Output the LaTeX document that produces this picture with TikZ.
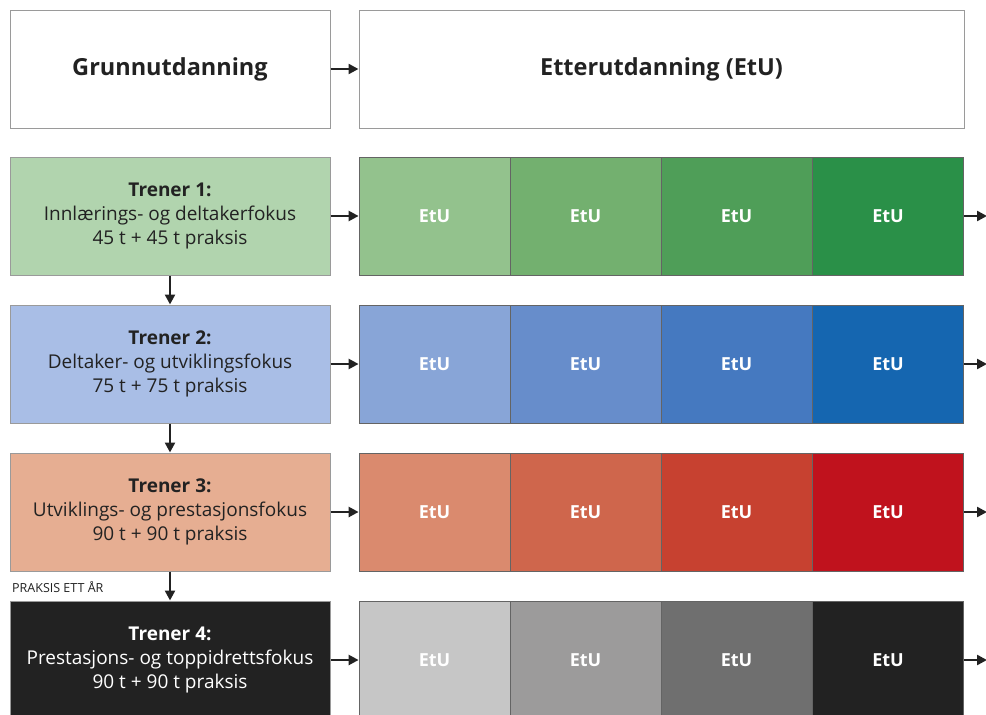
\documentclass[tikz,border=0pt]{standalone}
\usepackage{fontspec}
\setmainfont{Open Sans}
\usetikzlibrary{arrows.meta}
\definecolor{bordergray}{HTML}{9A9A9A}
\definecolor{ga}{HTML}{B1D4AE}\definecolor{g1}{HTML}{93C28D}\definecolor{g2}{HTML}{73B06F}\definecolor{g3}{HTML}{4F9E58}\definecolor{g4}{HTML}{2A9048}
\definecolor{ba}{HTML}{A9BEE6}\definecolor{b1}{HTML}{88A5D7}\definecolor{b2}{HTML}{678DCB}\definecolor{b3}{HTML}{4579C0}\definecolor{b4}{HTML}{1566B0}
\definecolor{ra}{HTML}{E6AE92}\definecolor{r1}{HTML}{DA8A6E}\definecolor{r2}{HTML}{CF664C}\definecolor{r3}{HTML}{C74130}\definecolor{r4}{HTML}{C0121D}
\definecolor{ka}{HTML}{222222}\definecolor{k1}{HTML}{C6C6C6}\definecolor{k2}{HTML}{9C9B9B}\definecolor{k3}{HTML}{6F6F6F}\definecolor{k4}{HTML}{222222}
\definecolor{arrowcol}{HTML}{222222}
\tikzset{
  x=1pt, y=-1pt,
  headbox/.style={draw=bordergray, line width=1pt, fill=white, minimum height=118pt, inner sep=0pt, font=\fontsize{23.5}{28}\selectfont\bfseries, text=ka},
  trainbox/.style={draw=bordergray, line width=1pt, minimum width=320pt, minimum height=118pt, inner sep=0pt, align=center, font=\fontsize{19}{24}\selectfont, text=ka},
  cell/.style={draw=ka!70, line width=0.8pt, minimum width=151pt, minimum height=118pt, inner sep=0pt, text=white, font=\fontsize{18}{20}\selectfont\bfseries},
  conn/.style={draw=arrowcol, line width=2.4pt, -{Triangle[length=10pt,width=10pt]}},
}
\begin{document}
\begin{tikzpicture}
\useasboundingbox (0,0) rectangle (986,715);
\clip (0,0) rectangle (986,715);
\node[headbox, minimum width=320pt] (g0) at (170,69) {Grunnutdanning};
\node[headbox, minimum width=605pt] (e0) at (661.5,69) {Etterutdanning (EtU)};
\draw[conn] (g0.east) -- (e0.west);

\node[trainbox, fill=ga] (t1) at (170,216) {\textbf{Trener 1:}\\Innlærings- og deltakerfokus\\45 t + 45 t praksis};
\node[trainbox, fill=ba] (t2) at (170,364) {\textbf{Trener 2:}\\Deltaker- og utviklingsfokus\\75 t + 75 t praksis};
\node[trainbox, fill=ra] (t3) at (170,512) {\textbf{Trener 3:}\\Utviklings- og prestasjonsfokus\\90 t + 90 t praksis};
\node[trainbox, fill=ka, text=white] (t4) at (170,660) {\textbf{Trener 4:}\\Prestasjons- og toppidrettsfokus\\90 t + 90 t praksis};

\foreach \r/\y/\c in {1/216/g, 2/364/b, 3/512/r, 4/660/k}{
  \node[cell, fill=\c1] (c\r1) at (434.5,\y) {EtU};
  \node[cell, fill=\c2] (c\r2) at (585.5,\y) {EtU};
  \node[cell, fill=\c3] (c\r3) at (736.5,\y) {EtU};
  \node[cell, fill=\c4] (c\r4) at (888,\y) {EtU};
  \coordinate (o\r) at (987,\y);
  \draw[conn] (t\r.east) -- (c\r1.west);
  \draw[conn] (c\r4.east) -- (o\r);
}
\draw[conn] (t1.south) -- (t2.north);
\draw[conn] (t2.south) -- (t3.north);
\draw[conn] (t3.south) -- (t4.north);
\node[anchor=west, inner sep=0pt, font=\fontsize{12.5}{14}\selectfont, text=ka] (pr) at (12,587) {PRAKSIS ETT ÅR};
\end{tikzpicture}
\end{document}
